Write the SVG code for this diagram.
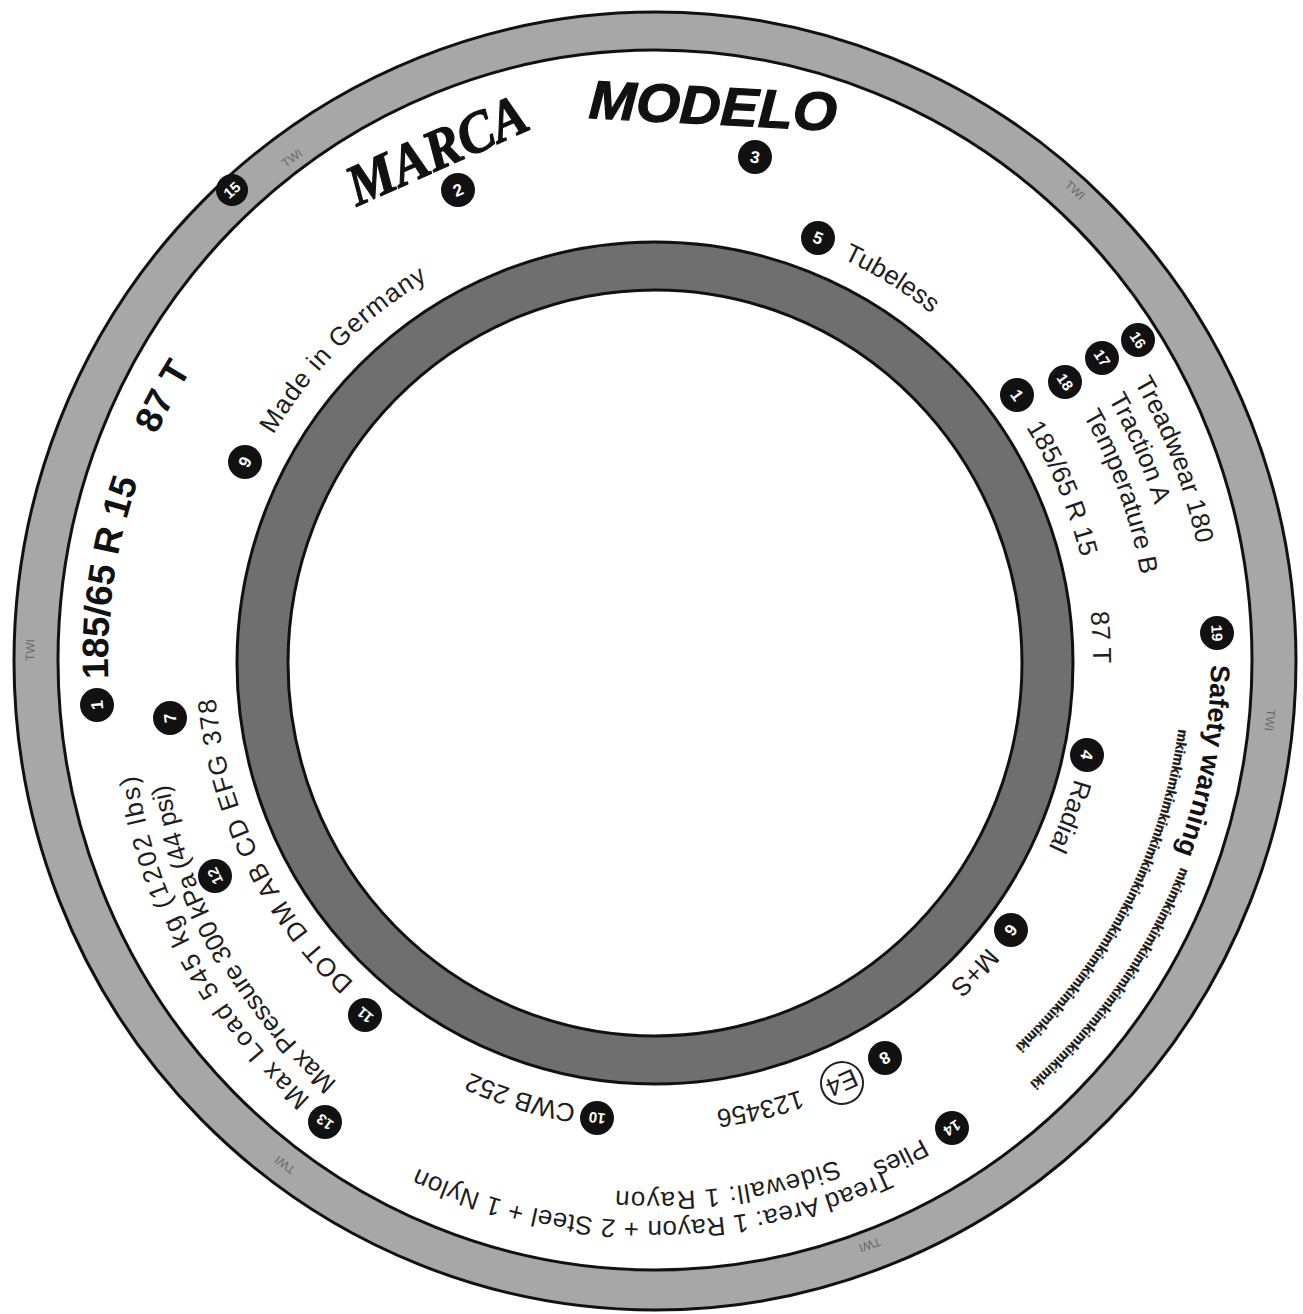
<svg xmlns="http://www.w3.org/2000/svg" width="1303" height="1314" viewBox="0 0 1303 1314">
<style>
.t{font-family:"Liberation Sans",Arial,sans-serif;fill:#1e1e1e;font-size:26px}
.tb{font-family:"Liberation Sans",Arial,sans-serif;fill:#111;font-weight:bold}
.b{fill:#111}
.bn{font-family:"Liberation Sans",Arial,sans-serif;fill:#fff;font-weight:bold;font-size:17px;text-anchor:middle}
.bn2{font-size:15px}
.twi{font-family:"Liberation Sans",Arial,sans-serif;fill:#6a6a6a;font-size:12px;text-anchor:middle}
.mki{font-family:"Liberation Sans",Arial,sans-serif;fill:#1a1a1a;stroke:#1a1a1a;stroke-width:0.4;font-weight:bold;font-size:14px}
</style>
<defs>
<path id="p443" d="M1098 660A443 443 0 0 1 212 660A443 443 0 0 1 1098 660A443 443 0 0 1 212 660A443 443 0 0 1 1098 660"/>
<path id="p547" d="M1202 660A547 547 0 0 1 108 660A547 547 0 0 1 1202 660A547 547 0 0 1 108 660A547 547 0 0 1 1202 660"/>
<path id="p554" d="M1209 660A554 554 0 0 1 101 660A554 554 0 0 1 1209 660A554 554 0 0 1 101 660A554 554 0 0 1 1209 660"/>
<path id="p523" d="M1178 660A523 523 0 0 1 132 660A523 523 0 0 1 1178 660A523 523 0 0 1 132 660A523 523 0 0 1 1178 660"/>
<path id="p493" d="M1148 660A493 493 0 0 1 162 660A493 493 0 0 1 1148 660A493 493 0 0 1 162 660A493 493 0 0 1 1148 660"/>
<path id="p438" d="M1093 660A438 438 0 0 1 217 660A438 438 0 0 1 1093 660A438 438 0 0 1 217 660A438 438 0 0 1 1093 660"/>
<path id="p556" d="M1211 660A556 556 0 0 1 99 660A556 556 0 0 1 1211 660A556 556 0 0 1 99 660A556 556 0 0 1 1211 660"/>
<path id="p565" d="M1220 660A565 565 0 0 1 90 660A565 565 0 0 1 1220 660A565 565 0 0 1 90 660A565 565 0 0 1 1220 660"/>
<path id="p528" d="M1183 660A528 528 0 0 1 127 660A528 528 0 0 1 1183 660A528 528 0 0 1 127 660A528 528 0 0 1 1183 660"/>
<path id="p436" d="M1091 660A436 436 0 0 1 219 660A436 436 0 0 1 1091 660A436 436 0 0 1 219 660A436 436 0 0 1 1091 660"/>
<path id="p439" d="M1094 660A439 439 0 0 1 216 660A439 439 0 0 1 1094 660A439 439 0 0 1 216 660A439 439 0 0 1 1094 660"/>
<path id="p454" d="M1109 660A454 454 0 0 1 201 660A454 454 0 0 1 1109 660A454 454 0 0 1 201 660A454 454 0 0 1 1109 660"/>
<path id="p452" d="M1107 660A452 452 0 0 1 203 660A452 452 0 0 1 1107 660A452 452 0 0 1 203 660A452 452 0 0 1 1107 660"/>
<path id="p441" d="M1096 660A441 441 0 0 1 214 660A441 441 0 0 1 1096 660A441 441 0 0 1 214 660A441 441 0 0 1 1096 660"/>
<path id="q543" d="M1217 695A543 543 0 0 1 131 695A543 543 0 0 1 1217 695"/>
<path id="q513" d="M1187 695A513 513 0 0 1 161 695A513 513 0 0 1 1187 695"/>
<path id="p548" d="M1203 660A548 548 0 0 1 107 660A548 548 0 0 1 1203 660A548 548 0 0 1 107 660A548 548 0 0 1 1203 660"/>
<path id="p532" d="M1187 660A532 532 0 0 1 123 660A532 532 0 0 1 1187 660A532 532 0 0 1 123 660A532 532 0 0 1 1187 660"/>
<path id="p561" d="M1216 660A561 561 0 0 1 94 660A561 561 0 0 1 1216 660A561 561 0 0 1 94 660A561 561 0 0 1 1216 660"/>
</defs>
<rect width="1303" height="1314" fill="#fff"/>
<g id="tyre">
<ellipse cx="655" cy="661" rx="641" ry="649" fill="#a7a7a7" stroke="#111" stroke-width="3"/>
<ellipse cx="655" cy="660" rx="597" ry="610" fill="#fff" stroke="#111" stroke-width="3"/>
<ellipse cx="655" cy="663" rx="418" ry="421" fill="#6f6f6f" stroke="#111" stroke-width="3"/>
<ellipse cx="655" cy="663" rx="367" ry="373" fill="#fff" stroke="#111" stroke-width="3"/>
</g>
<g id="twi-marks">
<text class="twi" transform="translate(292,158) rotate(324.1)" dy=".35em">TWI</text>
<text class="twi" transform="translate(1075,190) rotate(41.8)" dy=".35em">TWI</text>
<text class="twi" transform="translate(1270,720) rotate(95.6)" dy=".35em">TWI</text>
<text class="twi" transform="translate(870,1245) rotate(159.8)" dy=".35em">TWI</text>
<text class="twi" transform="translate(285,1165) rotate(216.2)" dy=".35em">TWI</text>
<text class="twi" transform="translate(30,650) rotate(270.9)" dy=".35em">TWI</text>
</g>
<g id="n15"><g transform="translate(232,190)"><circle r="16" class="b"/><text class="bn bn2" transform="rotate(318)" dy=".35em">15</text></g></g>
<g id="n2">
<text font-family="'Liberation Serif',serif" font-weight="bold" font-style="italic" font-size="58" fill="#111" stroke="#111" stroke-width="1.2" text-anchor="middle" textLength="192" lengthAdjust="spacingAndGlyphs" transform="translate(437,150) rotate(-24)" dy=".33em">MARCA</text>
<g transform="translate(458,190)"><circle r="17" class="b"/><text class="bn" transform="rotate(337.3)" dy=".35em">2</text></g>
</g>
<g id="n3">
<text class="tb" font-style="italic" font-size="54" stroke="#111" stroke-width="1.2" text-anchor="middle" textLength="248" lengthAdjust="spacingAndGlyphs" transform="translate(713,105) rotate(3)" dy=".36em">MODELO</text>
<g transform="translate(755,157)"><circle r="17" class="b"/><text class="bn" transform="rotate(11.2)" dy=".35em">3</text></g>
</g>
<g id="n5">
<g transform="translate(818,238)"><circle r="17" class="b"/><text class="bn" transform="rotate(21.1)" dy=".35em">5</text></g>
<text class="t"><textPath href="#p443" startOffset="2280.9">Tubeless</textPath></text>
</g>
<g id="n9">
<g transform="translate(245,462)"><circle r="17" class="b"/><text class="bn" transform="rotate(295.8)" dy=".35em">9</text></g>
<text class="t" letter-spacing="1"><textPath href="#p443" startOffset="1627.5">Made in Germany</textPath></text>
</g>
<g id="n1-left">
<g transform="translate(97,705)"><circle r="17" class="b"/><text class="bn" transform="rotate(265.4)" dy=".35em">1</text></g>
<text class="tb" font-size="37"><textPath href="#p547" startOffset="1699.4">185/65 R 15</textPath></text>
<text class="tb" font-size="37"><textPath href="#p547" startOffset="1950.4">87 T</textPath></text>
</g>
<g id="n16">
<g transform="translate(1138,340)"><circle r="17" class="b"/><text class="bn bn2" transform="rotate(56.5)" dy=".35em">16</text></g>
<text class="t" font-size="27"><textPath href="#p554" startOffset="3188.9">Treadwear 180</textPath></text>
</g>
<g id="n17">
<g transform="translate(1102,358)"><circle r="17" class="b"/><text class="bn bn2" transform="rotate(55.9)" dy=".35em">17</text></g>
<text class="t" font-size="27"><textPath href="#p523" startOffset="3012.3">Traction A</textPath></text>
</g>
<g id="n18">
<g transform="translate(1065,382)"><circle r="17" class="b"/><text class="bn bn2" transform="rotate(55.9)" dy=".35em">18</text></g>
<text class="t" font-size="27"><textPath href="#p493" startOffset="2841.2">Temperature B</textPath></text>
</g>
<g id="n1-right">
<g transform="translate(1017,395)"><circle r="17" class="b"/><text class="bn" transform="rotate(53.8)" dy=".35em">1</text></g>
<text class="t" font-size="27"><textPath href="#p438" startOffset="2505.1">185/65 R 15</textPath></text>
<text class="t" font-size="27"><textPath href="#p438" startOffset="2702.3">87 T</textPath></text>
</g>
<g id="n19">
<g transform="translate(1217,633)"><circle r="17" class="b"/><text class="bn bn2" transform="rotate(87.2)" dy=".35em">19</text></g>
<text class="tb" font-size="27"><textPath href="#p556" startOffset="4.9">Safety warning</textPath></text>
<text class="mki"><textPath href="#p565" startOffset="212" textLength="266">mkimkimkimkimkimkimkimkimkimkimki</textPath></text>
<text class="mki"><textPath href="#p528" startOffset="69.1" textLength="364">mkimkimkimkimkimkimkimkimkimkimkimkimkimkimki</textPath></text>
</g>
<g id="n4">
<g transform="translate(1087,755)"><circle r="17" class="b"/><text class="bn" transform="rotate(102.4)" dy=".35em">4</text></g>
<text class="t"><textPath href="#p436" startOffset="120.2">Radial</textPath></text>
</g>
<g id="n6">
<g transform="translate(1011,930)"><circle r="17" class="b"/><text class="bn" transform="rotate(127.2)" dy=".35em">6</text></g>
<text class="t"><textPath href="#p439" startOffset="312.6">M+S</textPath></text>
</g>
<g id="n8">
<g transform="translate(885,1058)"><circle r="17" class="b"/><text class="bn" transform="rotate(150)" dy=".35em">8</text></g>
<g transform="translate(842,1083) rotate(156.1)"><circle r="21" fill="#fff" stroke="#222" stroke-width="2"/><text class="t" font-size="20" text-anchor="middle" dy=".35em">E4</text></g>
<text class="t"><textPath href="#p454" startOffset="565">123456</textPath></text>
</g>
<g id="n10">
<g transform="translate(597,1118)"><circle r="17" class="b"/><text class="bn bn2" transform="rotate(187.2)" dy=".35em">10</text></g>
<text class="t" font-size="28"><textPath href="#p452" startOffset="788.9">CWB  252</textPath></text>
</g>
<g id="n11">
<g transform="translate(365,1015)"><circle r="17" class="b"/><text class="bn bn2" transform="rotate(219.2)" dy=".35em">11</text></g>
<text class="t"><textPath href="#p441" startOffset="1023.7" textLength="323">DOT  DM  AB  CD  EFG  378</textPath></text>
</g>
<g id="n12">
<g transform="translate(215,876)"><circle r="17" class="b"/><text class="bn bn2" transform="rotate(243.9)" dy=".35em">12</text></g>
<text class="t" font-size="24"><textPath href="#q513" startOffset="1172.9" textLength="349">Max Pressure 300 kPa (44 psi)</textPath></text>
</g>
<g id="n13">
<g transform="translate(325,1122)"><circle r="17" class="b"/><text class="bn bn2" transform="rotate(215.5)" dy=".35em">13</text></g>
<text class="t" font-size="24"><textPath href="#q543" startOffset="1251" textLength="374">Max Load 545 kg (1202 lbs)</textPath></text>
</g>
<g id="n7">
<g transform="translate(170,718)"><circle r="17" class="b"/><text class="bn" transform="rotate(263.2)" dy=".35em">7</text></g>
</g>
<g id="n14">
<g transform="translate(952,1128)"><circle r="17" class="b"/><text class="bn bn2" transform="rotate(147.6)" dy=".35em">14</text></g>
<text class="t" font-size="24"><textPath href="#p548" startOffset="581.5">Plies</textPath></text>
<text class="t" font-size="24"><textPath href="#p532" startOffset="650" textLength="225">Sidewall:   1 Rayon</textPath></text>
<text class="t" font-size="25"><textPath href="#p561" startOffset="641.3" textLength="485">Tread Area:  1 Rayon + 2 Steel + 1 Nylon</textPath></text>
</g>
</svg>
